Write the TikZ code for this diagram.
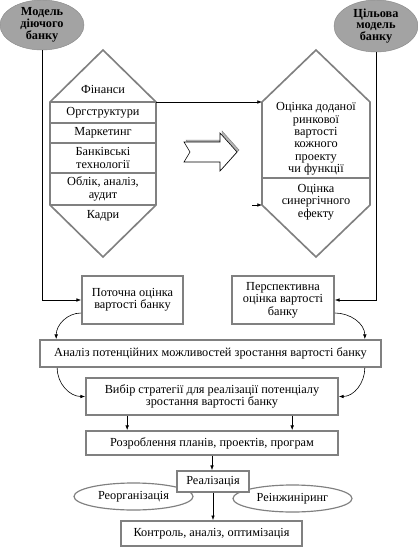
\documentclass[tikz,border=0pt]{standalone}
\usepackage{fontspec}
\setmainfont{Liberation Serif}
\usetikzlibrary{arrows.meta,calc,shapes.geometric}
\definecolor{bordergray}{RGB}{128,128,128}
\definecolor{ovalgray}{RGB}{163,163,163}

\begin{document}
\begin{tikzpicture}[x=0.3mm, y=-0.3mm,
	font=\fontsize{10.5}{10.5}\selectfont,
	box/.style={draw=bordergray, line width=1.4pt, fill=white, align=center, inner sep=1pt},
	oval/.style={ellipse, draw=bordergray, line width=1pt, fill=white, inner sep=0pt},
	model/.style={ellipse, fill=ovalgray, draw=ovalgray!85!black, align=center, inner sep=0pt,
		font=\bfseries\fontsize{10.5}{10}\selectfont},
	hex/.style={draw=bordergray, line width=1.4pt},
	arr/.style={-{Latex[length=4pt,width=3pt]}, line width=0.5pt}]
	\useasboundingbox (0,0) rectangle (418,547);
	
	% the two models of the bank
	\node[model, minimum width=25.2mm, minimum height=15mm] (cur) at (42,25) {Модель\\діючого\\банку};
	\node[model, minimum width=25.2mm, minimum height=15.6mm] (tgt) at (376,26) {Цільова\\модель\\банку};
	
	% left hexagon
	\draw[hex] (103,50) -- (156,102) -- (156,205) -- (103,257) -- (50,205) -- (50,102) -- cycle;
	\foreach \y in {102,123,143,173,205}
		\draw[hex] (50,\y) -- (156,\y);
	\coordinate (fl-ne) at (156,102);
	\node[] at (103,89) {Фінанси};
	\node[] at (103,113) {Оргструктури};
	\node[] at (103,133) {Маркетинг};
	\node[align=center] at (103,158) {Банківські\\технології};
	\node[align=center] at (103,189) {Облік, аналіз,\\аудит};
	\node[] at (103,216) {Кадри};
	
	% right hexagon
	\draw[hex] (316,50) -- (370,102) -- (370,205) -- (316,257) -- (262,205) -- (262,102) -- cycle;
	\draw[hex] (262,178) -- (370,178);
	\coordinate (vr-nw) at (262,102);
	\coordinate (vr-sw) at (262,205);
	\coordinate (syn-in) at (252,205);
	\node[align=center] at (316,139) {Оцінка доданої\\ринкової\\вартості\\кожного\\проекту\\чи функції};
	\node[align=center] at (316,202) {Оцінка\\синергічного\\ефекту};
	
	% block arrow between the hexagons
	\draw[bordergray, fill=bordergray!60, shift={(2,-2)}] (184,142) -- (220,142) -- (220,133) -- (237,152) -- (220,171) -- (220,162) -- (184,162) -- (190,152) -- cycle;
	\draw[fill=white, line width=0.5pt] (184,142) -- (220,142) -- (220,133) -- (237,152) -- (220,171) -- (220,162) -- (184,162) -- (190,152) -- cycle;
	
	% boxes
	\node[box, minimum width=30.3mm, minimum height=14.4mm] (pot) at (132.5,300) {Поточна оцінка\\вартості банку};
	\node[box, minimum width=30.6mm, minimum height=14.4mm] (persp) at (283,300) {Перспективна\\оцінка вартості\\банку};
	\node[box, minimum width=102.3mm, minimum height=8.1mm] (an) at (210.5,353.5) {Аналіз потенційних можливостей зростання вартості банку};
	\node[box, minimum width=75.6mm, minimum height=11.1mm] (vyb) at (212,396.5) {Вибір стратегії для реалізації потенціалу\\зростання вартості банку};
	\node[box, minimum width=75.6mm, minimum height=7.2mm] (roz) at (212,443) {Розроблення планів, проектів, програм};
	\node[oval, minimum width=35.7mm, minimum height=8.1mm] (reorg) at (133.5,496.5) {Реорганізація};
	\node[oval, minimum width=35.7mm, minimum height=8.1mm] (reeng) at (292.5,498.5) {Реінжиніринг};
	\node[box, minimum width=21.6mm, minimum height=6.3mm] (real) at (213,481.5) {Реалізація};
	\node[box, minimum width=54.3mm, minimum height=7.5mm] (ctl) at (211.5,533.5) {Контроль, аналіз, оптимізація};
	
	% connectors
	\draw[arr] (cur.south) |- (pot.west);
	\draw[arr] (tgt.south) |- (persp.east);
	\draw[arr] (fl-ne) -- (vr-nw);
	\draw[arr] (syn-in) -- (vr-sw);
	\draw[arr] ([yshift=-3.9mm]pot.west) to[out=180,in=90] ($(an.north west)+(17,0)$);
	\draw[arr] ([yshift=-3.9mm]persp.east) to[out=0,in=90] ($(an.north east)+(-17,0)$);
	\draw[arr] ($(an.south west)+(18,0)$) to[out=270,in=180] (vyb.west);
	\draw[arr] ($(an.south east)+(-17,0)$) to[out=270,in=0] (vyb.east);
	\draw[arr] ($(vyb.south west)+(42,0)$) -- ($(roz.north west)+(42,0)$);
	\draw[arr] ($(vyb.south west)+(207,0)$) -- ($(roz.north west)+(207,0)$);
	\draw[arr] (roz.south) -- (roz.south |- real.north);
	\draw[arr] (real.south) -- (real.south |- ctl.north);
\end{tikzpicture}
\end{document}
